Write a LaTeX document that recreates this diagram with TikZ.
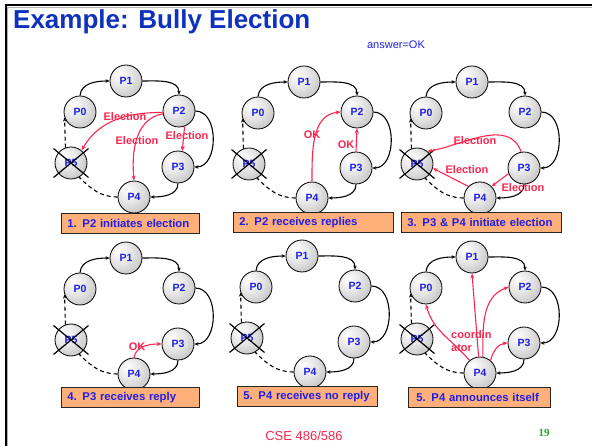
\documentclass[tikz,border=0pt]{standalone}
\usepackage{fontspec}
\setmainfont{Liberation Sans}
\newfontfamily\pgserif{Liberation Serif}
\usetikzlibrary{arrows.meta}
\definecolor{nodeblue}{RGB}{30,30,230}
\definecolor{titleblue}{RGB}{15,50,190}
\definecolor{boxfill}{RGB}{255,176,122}
\definecolor{msgred}{RGB}{250,40,80}
\definecolor{pggreen}{RGB}{30,170,40}
\pgfdeclareradialshading{procshade}{\pgfpoint{-12bp}{12bp}}{color(0bp)=(white); color(18bp)=(black!10); color(40bp)=(black!28); color(62bp)=(black!38)}
\tikzset{
  proc/.style={circle, draw=black, line width=0.8pt, shading=procshade, minimum size=32pt, inner sep=0pt, text=nodeblue, font=\fontsize{10.5}{12}\selectfont\bfseries},
  ringarr/.style={line width=1.1pt, -{Stealth[length=4pt,width=3.5pt]}},
  ringdash/.style={line width=1.1pt, dash pattern=on 4pt off 3pt},
  cross/.style={line width=1.2pt},
  msg/.style={draw=msgred, line width=1.1pt, -{Stealth[length=5pt,width=4pt]}},
  msglabel/.style={text=msgred, font=\fontsize{11}{13}\selectfont\bfseries, inner sep=0pt},
  boxst/.style={draw=black!85, line width=0.8pt, fill=boxfill, anchor=north west, minimum height=20pt, inner xsep=6pt, inner ysep=0pt, align=left, text=nodeblue, font=\fontsize{11.3}{13}\selectfont\bfseries}
}
\newcommand\ring[3]{%
\begin{scope}[shift={(#2,-#3)}]
\node[proc] (#1p1) at (0,0) {P1};
\node[proc] (#1p0) at (-46,-31) {P0};
\node[proc] (#1p2) at (53,-30) {P2};
\node[proc] (#1p3) at (52,-86) {P3};
\node[proc] (#1p4) at (8,-116) {P4};
\node[proc] (#1p5) at (-55,-82) {P5};
\draw[ringarr] (#1p0.north) to[out=85,in=180] (#1p1.west);
\draw[ringarr] (#1p1.east) to[out=0,in=90] (#1p2.north);
\draw[ringarr] (#1p2.east) to[out=0,in=0,looseness=1.1] (#1p3.east);
\draw[ringarr] (#1p3.south) to[out=-90,in=0] (#1p4.east);
\draw[ringdash] (#1p4.west) to[out=180,in=-45] (#1p5.-60);
\draw[ringdash, -{Stealth[length=4pt,width=3.5pt]}] (#1p5.110) -- (#1p0.200);
\draw[cross] ([shift={(-17.5,14.5)}]#1p5.center) -- ([shift={(17.5,-14.5)}]#1p5.center);
\draw[cross] ([shift={(-17.5,-14.5)}]#1p5.center) -- ([shift={(17.5,14.5)}]#1p5.center);
\end{scope}}
\begin{document}
\begin{tikzpicture}[x=1pt,y=1pt]
\useasboundingbox (0,0) rectangle (592,-446);
\fill[white] (0,0) rectangle (592,-446);
% frame
\draw[gray!60, line width=0.8pt] (7.6,-446) -- (7.6,-7.6) -- (592,-7.6);
\draw[black, line width=2pt] (6,-446) -- (6,-5) -- (592,-5);
% title
\node[anchor=base west, inner sep=0pt, text=titleblue, font=\fontsize{26}{30}\selectfont\bfseries] (title) at (13,-29) {Example: Bully Election};
\node[inner sep=0pt, text=nodeblue, font=\fontsize{11}{13}\selectfont] (answer) at (396,-45) {answer=OK};
% panel 1
\ring{a}{126}{81}
\draw[msg] (ap2.185) to[out=180,in=60] (ap5.50);
\draw[msg] (ap2.190) to[out=190,in=95] (ap4.north);
\draw[msg] (ap2.-70) -- (ap3.75);
\node[msglabel] (al1) at (-1+126,-36-81) {Election};
\node[msglabel] (al2) at (11+126,-60-81) {Election};
\node[msglabel] (al3) at (61+126,-55-81) {Election};
\node[boxst, text width=126pt, minimum width=138pt] (abox) at (61,-213) {1. P2 initiates election};
% panel 2
\ring{b}{304}{82}
\draw[msg] (bp4.north) to[out=90,in=185] (bp2.west);
\draw[msg] (bp3.north) -- (bp2.south);
\node[msglabel] (bl1) at (8+304,-53-82) {OK};
\node[msglabel] (bl2) at (42+304,-63-82) {OK};
\node[boxst, text width=148pt, minimum width=160pt] (bbox) at (233,-212) {2. P2 receives replies};
% panel 3
\ring{c}{472}{82}
\draw[msg] (cp3.100) to[out=110,in=10] (cp5.50);
\draw[msg] (cp4.135) -- (cp5.-15);
\draw[msg] (cp3.200) -- (cp4.45);
\node[msglabel] (cl1) at (3+472,-59-82) {Election};
\node[msglabel] (cl2) at (-5+472,-88-82) {Election};
\node[msglabel] (cl3) at (51+472,-106-82) {Election};
\node[boxst, text width=148pt, minimum width=160pt] (cbox) at (401,-212) {3. P3 \& P4 initiate election};
% panel 4
\ring{d}{126}{258}
\draw[msg] (dp4.north) to[out=80,in=180] (dp3.west);
\node[msglabel] (dl1) at (11+126,-89-258) {OK};
\node[boxst, text width=126pt, minimum width=138pt] (dbox) at (61,-387) {4. P3 receives reply};
% panel 5
\ring{e}{302}{256}
\node[boxst, text width=128pt, minimum width=140pt] (ebox) at (237,-386) {5. P4 receives no reply};
% panel 6
\ring{f}{472}{257}
\draw[msg] (fp4.130) to[out=130,in=-75] (fp0.south);
\draw[msg] (fp4.95) -- (fp1.south);
\draw[msg] (fp4.80) to[out=90,in=200] (fp2.west);
\draw[msg] (fp4.50) to[out=75,in=185] (fp3.west);
\node[msglabel, anchor=west, align=left, font=\fontsize{11}{13}\selectfont\bfseries] (fl1) at (-21+472,-84.5-257) {coordin\\ator};
\node[boxst, text width=126pt, minimum width=138pt, inner xsep=8pt] (fbox) at (408,-387) {5. P4 announces itself};
% footer
\node[inner sep=0pt, text=msgred, font=\fontsize{13}{15}\selectfont] (foot) at (304,-436) {CSE 486/586};
\node[inner sep=0pt, text=pggreen, font=\pgserif\fontsize{11}{13}\selectfont\bfseries] (pg) at (544,-433) {19};
\end{tikzpicture}
\end{document}
